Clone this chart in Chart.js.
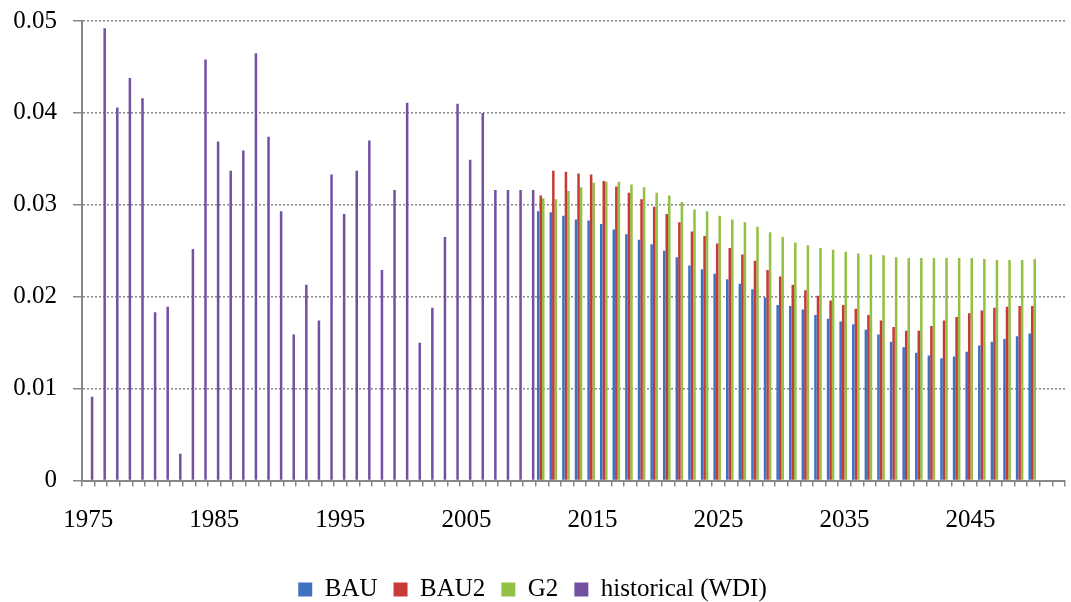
<!DOCTYPE html>
<html>
<head>
<meta charset="utf-8">
<style>
  html, body { margin: 0; padding: 0; background: #fff; }
</style>
<script src="https://cdn.jsdelivr.net/npm/chart.js@4.4.1/dist/chart.umd.min.js"></script>
</head>
<body>
<canvas id="chart" width="1071" height="602"></canvas>
<script>
// Years on the axis (two empty slots after 2050, as in the original)
const years = [];
for (let y = 1975; y <= 2052; y++) years.push(y);

// historical (WDI), 1975-2010
const historical = [
  0.0091, 0.0492, 0.0406, 0.0438, 0.0416, 0.0183, 0.0189, 0.0029, 0.0252, 0.0458,
  0.0369, 0.0337, 0.0359, 0.0465, 0.0374, 0.0293, 0.0159, 0.0213, 0.0174, 0.0333,
  0.0290, 0.0337, 0.0370, 0.0229, 0.0316, 0.0411, 0.0150, 0.0188, 0.0265, 0.0410,
  0.0349, 0.0400, 0.0316, 0.0316, 0.0316, 0.0316
];

// scenarios, 2011-2050
const bau = [
  0.0293, 0.0292, 0.0288, 0.0284, 0.0283, 0.0279, 0.0273, 0.0268, 0.0262, 0.0257,
  0.0250, 0.0243, 0.0234, 0.0230, 0.0225, 0.0219, 0.0214, 0.0208, 0.0199, 0.0191,
  0.0190, 0.0186, 0.0180, 0.0176, 0.0173, 0.0170, 0.0164, 0.0159, 0.0151, 0.0145,
  0.0139, 0.0136, 0.0133, 0.0135, 0.0140, 0.0147, 0.0151, 0.0154, 0.0157, 0.0160
];
const bau2 = [
  0.0310, 0.0337, 0.0336, 0.0334, 0.0333, 0.0326, 0.0320, 0.0313, 0.0306, 0.0298,
  0.0290, 0.0281, 0.0271, 0.0266, 0.0258, 0.0253, 0.0246, 0.0239, 0.0229, 0.0222,
  0.0213, 0.0207, 0.0201, 0.0196, 0.0191, 0.0187, 0.0180, 0.0174, 0.0167, 0.0163,
  0.0163, 0.0168, 0.0174, 0.0178, 0.0182, 0.0185, 0.0188, 0.0189, 0.0190, 0.0190
];
const g2 = [
  0.0307, 0.0306, 0.0315, 0.0319, 0.0324, 0.0325, 0.0325, 0.0322, 0.0319, 0.0313,
  0.0310, 0.0303, 0.0295, 0.0293, 0.0288, 0.0284, 0.0281, 0.0276, 0.0270, 0.0265,
  0.0259, 0.0256, 0.0253, 0.0251, 0.0249, 0.0247, 0.0246, 0.0245, 0.0243, 0.0242,
  0.0242, 0.0242, 0.0242, 0.0242, 0.0242, 0.0241, 0.0240, 0.0240, 0.0240, 0.0241
];

const yTicks = [0, 0.01, 0.02, 0.03, 0.04, 0.05];

// place a series on the full year axis, null where it has no value
function onAxis(values, startYear) {
  return years.map(y => {
    const i = y - startYear;
    return (i >= 0 && i < values.length) ? values[i] : null;
  });
}

const font = { family: "'Liberation Serif', 'DejaVu Serif', serif", size: 25 };
const axisGrey = "#878787";

new Chart(document.getElementById("chart"), {
  type: "bar",
  data: {
    labels: years,
    datasets: [
      { label: "BAU", data: onAxis(bau, 2011), backgroundColor: "#3d72c1" },
      { label: "BAU2", data: onAxis(bau2, 2011), backgroundColor: "#c63b37" },
      { label: "G2", data: onAxis(g2, 2011), backgroundColor: "#93c146" },
      { label: "historical (WDI)", data: onAxis(historical, 1975), backgroundColor: "#7351a2" }
    ]
  },
  options: {
    responsive: false,
    animation: false,
    layout: { padding: { top: 19.5, right: 6, left: 0, bottom: -10 } },
    datasets: {
      bar: { categoryPercentage: 0.8, barPercentage: 1, skipNull: false }
    },
    plugins: {
      legend: {
        position: "bottom",
        labels: {
          font: font,
          color: "#000",
          boxWidth: 14,
          boxHeight: 14,
          padding: 16
        }
      },
      tooltip: { enabled: false }
    },
    scales: {
      x: {
        grid: {
          drawOnChartArea: false,
          color: axisGrey,
          lineWidth: 1.5,
          tickLength: 6
        },
        border: { color: axisGrey, width: 2 },
        ticks: {
          autoSkip: false,
          maxRotation: 0,
          font: font,
          color: "#000",
          padding: 19,
          callback: function (val, i) {
            const y = years[i];
            return (y - 1975) % 10 === 0 && y <= 2045 ? String(y) : "";
          }
        },
        afterFit: function (scale) {
          scale.height = 80.5;
          scale.paddingLeft = 0;
          scale.paddingRight = 0;
        }
      },
      y: {
        min: 0,
        max: 0.05,
        afterBuildTicks: function (scale) {
          scale.ticks = yTicks.map(v => ({ value: v }));
        },
        grid: {
          color: axisGrey,
          lineWidth: 1.5,
          tickLength: 9
        },
        border: { color: axisGrey, width: 2, dash: [2, 2] },
        ticks: {
          font: { family: font.family, size: 25, lineHeight: 0.4 },
          color: "#000",
          padding: 16,
          callback: v => (v === 0 ? "0" : v.toFixed(2))
        },
        afterFit: function (scale) { scale.width = 82; }
      }
    }
  }
});
</script>
</body>
</html>
